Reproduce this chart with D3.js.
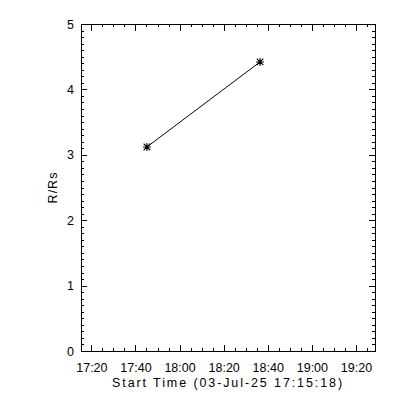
<!DOCTYPE html>
<html><head><meta charset="utf-8">
<script src="https://cdn.jsdelivr.net/npm/d3@7"></script>
<style>
body{margin:0;background:#fff}
svg{display:block}
text{font-family:"Liberation Sans",Arial,sans-serif;font-size:12.5px;fill:#000}
</style>
</head><body>
<svg id="c" width="400" height="400"></svg>
<script>
// ---- data ----
const startTime = "2025-07-03T17:15:18Z";
const xRangeSeconds = [0, 8000];
const times = ["2025-07-03T17:45:12Z", "2025-07-03T18:36:30Z"];
const heights = [3.12, 4.42];
const yTickValues = [0, 1, 2, 3, 4, 5];
const xTickLabels = ["17:20", "17:40", "18:00", "18:20", "18:40", "19:00", "19:20"];
const yLabel = "R/Rs";
const xLabel = "Start Time (03-Jul-25 17:15:18)";

// ---- layout ----
const W = 400, H = 400;
const m = {left: 81, top: 24, right: 25, bottom: 49};
const pw = W - m.left - m.right, ph = H - m.top - m.bottom;

const svg = d3.select("#c");
const g = svg.append("g").attr("transform", `translate(${m.left},${m.top})`);

const parse = d3.utcParse("%Y-%m-%dT%H:%M:%SZ");
const t0 = parse(startTime);
const x = d3.scaleUtc()
  .domain(xRangeSeconds.map(s => new Date(t0.getTime() + s * 1000)))
  .range([0, pw]);
const y = d3.scaleLinear().domain([0, 5]).range([ph, 0]);

const day = d3.utcFormat("%Y-%m-%d")(t0);
const majorX = xTickLabels.map(l => parse(`${day}T${l}:00Z`));
const minorX = d3.utcMinute.every(5).range(x.domain()[0], x.domain()[1]);
const minorY = d3.range(0, 50).map(i => i / 10);

const fmt = d3.utcFormat("%H:%M");

function styleAxis(sel) {
  sel.select(".domain").remove();
  sel.selectAll("line").attr("stroke", "#000").attr("shape-rendering", "crispEdges");
  sel.selectAll("text").attr("fill", "#000").style("font-size", "12.5px")
     .style("font-family", '"Liberation Sans",Arial,sans-serif');
}

// minor ticks
g.append("g").attr("transform", `translate(0,${ph})`)
  .call(d3.axisBottom(x).tickValues(minorX).tickSize(-3.3).tickFormat(""))
  .call(styleAxis);
g.append("g")
  .call(d3.axisTop(x).tickValues(minorX).tickSize(-3.3).tickFormat(""))
  .call(styleAxis);
g.append("g")
  .call(d3.axisLeft(y).tickValues(minorY).tickSize(-3).tickFormat(""))
  .call(styleAxis);
g.append("g").attr("transform", `translate(${pw},0)`)
  .call(d3.axisRight(y).tickValues(minorY).tickSize(-3).tickFormat(""))
  .call(styleAxis);

// major ticks
g.append("g").attr("transform", `translate(0,${ph})`)
  .call(d3.axisBottom(x).tickValues(majorX).tickSize(-6.5).tickPadding(12.5).tickFormat(fmt))
  .call(styleAxis);
g.append("g")
  .call(d3.axisTop(x).tickValues(majorX).tickSize(-6.5).tickFormat(""))
  .call(styleAxis);
g.append("g")
  .call(d3.axisLeft(y).tickValues(yTickValues).tickSize(-6).tickPadding(7).tickFormat(d3.format("d")))
  .call(styleAxis);
g.append("g").attr("transform", `translate(${pw},0)`)
  .call(d3.axisRight(y).tickValues(yTickValues).tickSize(-6).tickFormat(""))
  .call(styleAxis);

// frame
g.append("rect").attr("x", 0).attr("y", 0).attr("width", pw).attr("height", ph)
  .attr("fill", "none").attr("stroke", "#000").attr("shape-rendering", "crispEdges");

// data
const pts = times.map((t, i) => ({t: parse(t), v: heights[i]}));
g.append("path").datum(pts)
  .attr("fill", "none").attr("stroke", "#000").attr("stroke-width", 1)
  .attr("d", d3.line().x(d => x(d.t)).y(d => y(d.v)));

const star = "M-4,0H4M0,-4V4M-3.3,-3.3L3.3,3.3M-3.3,3.3L3.3,-3.3";
g.selectAll(".star").data(pts).enter().append("path")
  .attr("class", "star")
  .attr("transform", d => `translate(${x(d.t)},${y(d.v)})`)
  .attr("d", star).attr("stroke", "#000").attr("stroke-width", 1.1).attr("fill", "none");

// labels
svg.append("text")
  .attr("x", m.left + pw / 2).attr("y", 387)
  .attr("text-anchor", "middle").style("letter-spacing", "1.9px")
  .text(xLabel);
svg.append("text")
  .attr("transform", `translate(57,${m.top + ph / 2}) rotate(-90)`)
  .attr("text-anchor", "middle").style("letter-spacing", "1px")
  .text(yLabel);
</script>
</body></html>
